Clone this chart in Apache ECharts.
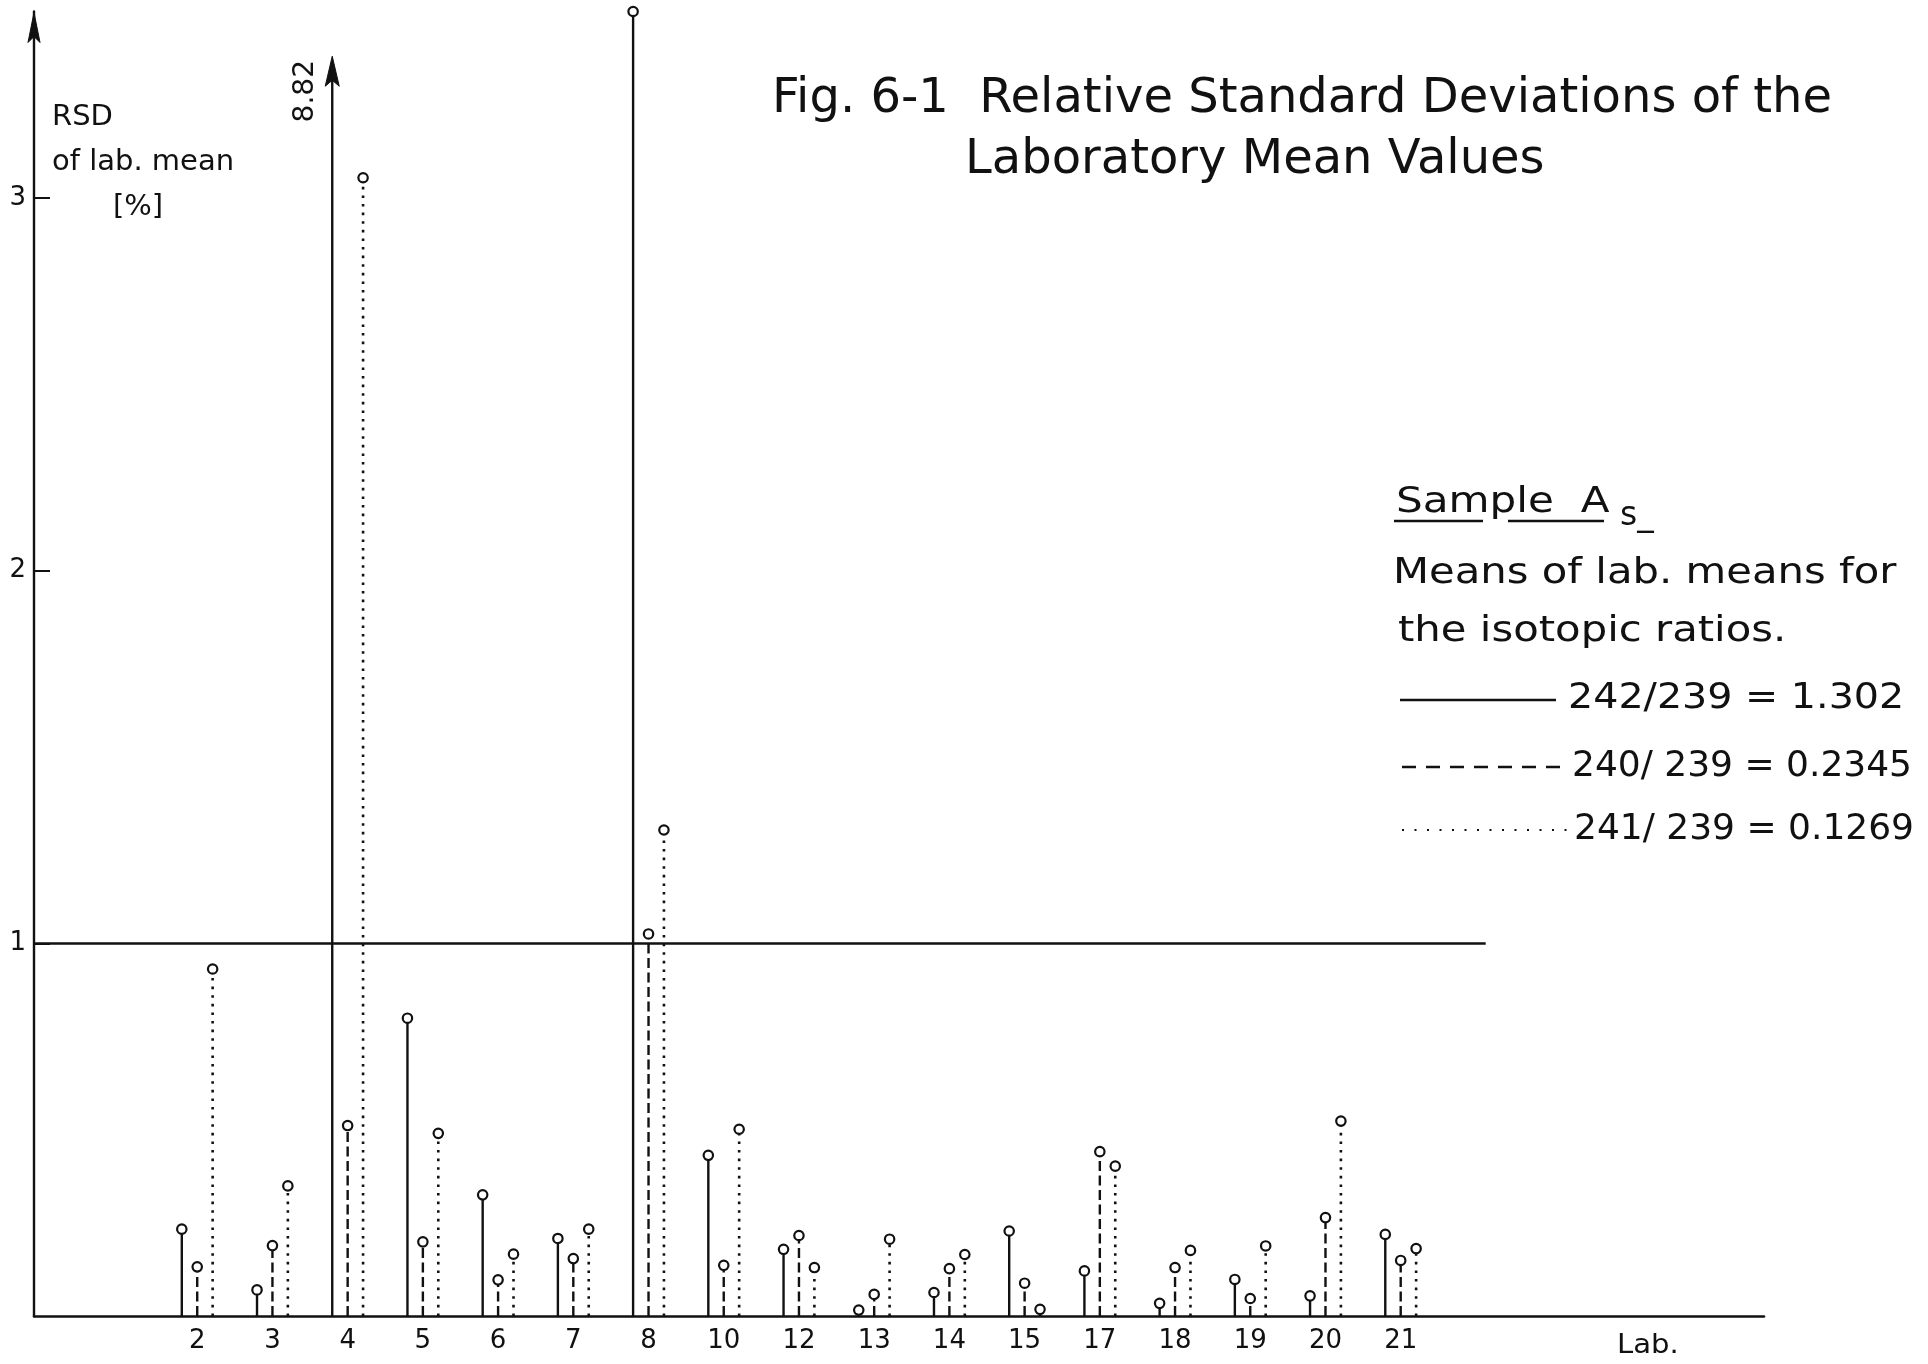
<!DOCTYPE html>
<html>
<head>
<meta charset="utf-8">
<script src="https://cdn.jsdelivr.net/npm/echarts@6/dist/echarts.min.js"></script>
<style>
  html, body { margin: 0; padding: 0; background: #fff; }
  #chart { width: 1928px; height: 1364px; }
</style>
</head>
<body>
<div id="chart"></div>
<script>
// Participating laboratories (x axis categories)
const labs = ['2', '3', '4', '5', '6', '7', '8', '10', '12', '13', '14', '15', '17', '18', '19', '20', '21'];

// RSD of the laboratory mean [%] for each isotopic ratio
const rsd242 = [0.233, 0.070, 8.82, 0.799, 0.325, 0.208, 3.50, 0.431, 0.179, 0.016, 0.063, 0.228, 0.121, 0.034, 0.098, 0.054, 0.219];
const rsd240 = [0.132, 0.189, 0.511, 0.199, 0.097, 0.154, 1.025, 0.136, 0.216, 0.058, 0.127, 0.088, 0.441, 0.130, 0.047, 0.264, 0.149];
const rsd241 = [0.931, 0.349, 3.054, 0.490, 0.166, 0.233, 1.304, 0.501, 0.130, 0.206, 0.165, 0.018, 0.402, 0.176, 0.188, 0.523, 0.181];

// Axis tick labels
const yTickValues = [1, 2, 3];
const labIndex = labs.map((_, i) => i);

// Legend texts
const ratioNames = ['242/239 = 1.302', '240/ 239 = 0.2345', '241/ 239 = 0.1269'];

// Axis extents (x in lab-slot units, y in %)
const X_MIN = -2.17, X_MAX = 20.83;
const Y_MAX = 3.5;
const BREAK_AT = 3.38;      // where off-scale stems are cut and marked with an arrow
const LIMIT_END = 17.13;    // right end of the 1 % reference line
const FONT = '"DejaVu Sans", "Liberation Sans", sans-serif';
const INK = '#111';

function arrowHead(cx, tipY, halfW, len) {
  return [[cx, tipY], [cx + halfW, tipY + len], [cx, tipY + len * 0.8], [cx - halfW, tipY + len]];
}

function stem(offset, dash, width) {
  return function (params, api) {
    const x = api.value(0) + offset;
    const v = api.value(1);
    const base = api.coord([x, 0]);
    const off = v > Y_MAX;
    const top = api.coord([x, off ? BREAK_AT : v]);
    const r = 4.7;
    const children = [{
      type: 'line',
      shape: { x1: base[0], y1: base[1], x2: top[0], y2: off ? top[1] + 20 : top[1] + r },
      style: { stroke: INK, lineWidth: width, lineDash: dash, lineCap: 'butt' }
    }];
    if (off) {
      children.push({
        type: 'polygon',
        shape: { points: arrowHead(top[0], top[1], 7, 30) },
        style: { fill: INK, stroke: INK, lineWidth: 1 }
      });
      children.push({
        type: 'text',
        x: top[0] - 27, y: top[1] + 35, rotation: Math.PI / 2,
        style: { text: v.toFixed(2), fontSize: 28, fontFamily: FONT, fill: INK, align: 'center', verticalAlign: 'middle' }
      });
    } else {
      children.push({
        type: 'circle',
        shape: { cx: top[0], cy: top[1], r: r },
        style: { fill: '#fff', stroke: INK, lineWidth: 2.2 }
      });
    }
    return { type: 'group', children: children };
  };
}

function seriesOf(values, offset, dash, width, extra) {
  return Object.assign({
    type: 'custom',
    coordinateSystem: 'cartesian2d',
    renderItem: stem(offset, dash, width),
    encode: { x: 0, y: 1 },
    data: values.map((v, i) => [i, v]),
    clip: false,
    silent: true
  }, extra || {});
}

function txt(text, x, y, size, opts) {
  return Object.assign({
    type: 'text', x: x, y: y, silent: true,
    style: Object.assign({ text: text, fontSize: size, fontFamily: FONT, fill: INK, align: 'left', verticalAlign: 'middle' }, (opts && opts.style) || {})
  }, (opts && opts.el) || {});
}
function seg(x1, y1, x2, y2, w, dash) {
  return { type: 'line', silent: true, shape: { x1, y1, x2, y2 }, style: { stroke: INK, lineWidth: w, lineDash: dash || null } };
}

const GRID = { left: 34, right: 164, top: 11.5, bottom: 48 };

const chart = echarts.init(document.getElementById('chart'), null, { renderer: 'canvas' });
chart.setOption({
  backgroundColor: '#fff',
  animation: false,
  grid: Object.assign({ containLabel: false }, GRID),
  xAxis: {
    type: 'value', min: X_MIN, max: X_MAX,
    axisLine: { onZero: false, lineStyle: { color: INK, width: 2.6 } },
    axisTick: { show: false },
    splitLine: { show: false },
    axisLabel: {
      customValues: labIndex,
      formatter: (v) => labs[Math.round(v)],
      fontSize: 26, fontFamily: FONT, color: INK, margin: 12
    }
  },
  yAxis: {
    type: 'value', min: 0, max: Y_MAX, interval: 1,
    axisLine: { show: true, onZero: false, lineStyle: { color: INK, width: 2.4 } },
    axisTick: { show: true, inside: true, length: 16, customValues: yTickValues, lineStyle: { color: INK, width: 2 } },
    splitLine: { show: false },
    axisLabel: { customValues: yTickValues, fontSize: 26, fontFamily: FONT, color: INK, margin: 8 }
  },
  series: [
    seriesOf(rsd242, -0.205, null, 2.4, {
      markLine: {
        silent: true, symbol: ['none', 'none'], animation: false,
        label: { show: false },
        lineStyle: { color: INK, width: 2.6, type: 'solid' },
        data: [[{ coord: [X_MIN, 1] }, { coord: [LIMIT_END, 1] }]]
      }
    }),
    seriesOf(rsd240, 0, [10, 4.5], 2.4),
    seriesOf(rsd241, 0.205, [2.6, 6], 2.6)
  ],
  graphic: {
    elements: [
      // arrowhead on top of the y axis
      { type: 'polygon', silent: true, shape: { points: arrowHead(GRID.left, 12.5, 6, 30) }, style: { fill: INK, stroke: INK, lineWidth: 1 } },
      // title
      txt('Fig. 6-1  Relative Standard Deviations of the', 772, 100, 48),
      txt('Laboratory Mean Values', 965, 161, 48),
      // y axis caption
      txt('RSD', 52, 117, 29),
      txt('of lab. mean', 52, 162, 29),
      txt('[%]', 113, 207, 29),
      // x axis caption
      txt('Lab.', 1617, 1346, 26, { el: { scaleX: 1.12 } }),
      // sample note and legend
      txt('Sample  A', 1396, 503, 36, { el: { scaleX: 1.17 } }),
      seg(1394, 521, 1483, 521, 2.6), seg(1508, 521, 1604, 521, 2.6),
      txt('s_', 1620, 516, 33),
      txt('Means of lab. means for', 1393, 574, 36, { el: { scaleX: 1.16 } }),
      txt('the isotopic ratios.', 1398, 632, 36, { el: { scaleX: 1.16 } }),
      seg(1400, 700, 1556, 700, 2.4),
      txt(ratioNames[0], 1568, 699, 36, { el: { scaleX: 1.1 } }),
      seg(1402, 767, 1568, 767, 2.4, [14, 10]),
      txt(ratioNames[1], 1572, 767, 36),
      seg(1402, 830, 1572, 830, 2.2, [2, 10.5]),
      txt(ratioNames[2], 1574, 830, 36)
    ]
  }
});
</script>
</body>
</html>
